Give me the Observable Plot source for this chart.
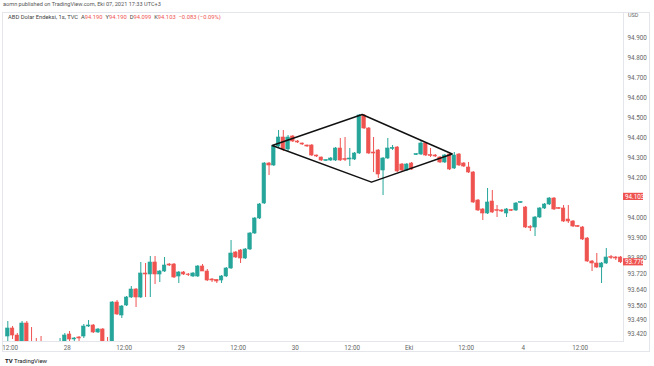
<!DOCTYPE html>
<html><head><meta charset="utf-8">
<script src="https://cdn.jsdelivr.net/npm/d3@7"></script>
<script src="https://cdn.jsdelivr.net/npm/@observablehq/plot@0.6"></script>
<style>
body{margin:0;background:#fff;}
#wrap{position:relative;width:654px;height:366px;font-family:Roboto,"Liberation Sans",sans-serif;overflow:hidden;}
.t{position:absolute;white-space:nowrap;line-height:1;}
.r{color:#ef5350;}
#frame{position:absolute;left:2px;top:12px;width:648px;height:340px;border:1px solid #e4e6ec;box-sizing:border-box;}
</style></head><body>
<div id="wrap">
<div id="frame"></div>
<div class="t" style="left:3px;top:2px;font-size:5.6px;color:#555">aomn published on TradingView.com, Eki 07, 2021 17:33 UTC+3</div>
<div class="t" style="left:8px;top:14.5px;font-size:5.8px;color:#444">ABD Dolar Endeksi, 1s, TVC&nbsp;&nbsp;A<span class="r">94.190</span>&nbsp;&nbsp;Y<span class="r">94.190</span>&nbsp;&nbsp;D<span class="r">94.099</span>&nbsp;&nbsp;K<span class="r">94.103</span>&nbsp;&nbsp;<span class="r">−0.083 (−0.09%)</span></div>
<div class="t" style="left:628px;top:13px;font-size:5.5px;color:#666">USD</div>
<div class="t" style="left:5px;top:358px;font-size:6px;color:#131722"><b>TV</b> TradingView</div>
<div id="chart" style="position:absolute;left:0;top:0"></div>
</div>
<script>
const open = [
93.405, 93.445, 93.41, 93.37, 93.47, 93.36, 93.34, 93.33, 93.31, 93.30,
93.32, 93.34, 93.37, 93.415, 93.39, 93.40, 93.405, 93.455, 93.46, 93.425,
93.44, 93.37, 93.36, 93.575, 93.51, 93.56, 93.60, 93.64, 93.60, 93.72,
93.715, 93.775, 93.715, 93.73, 93.765, 93.765, 93.705, 93.725, 93.715, 93.705,
93.705, 93.755, 93.73, 93.69, 93.688, 93.685, 93.705, 93.745, 93.825, 93.835,
93.795, 93.84, 93.92, 93.995, 94.07, 94.27, 94.26, 94.355, 94.40, 94.34,
94.405, 94.38, 94.37, 94.36, 94.36, 94.31, 94.30, 94.283, 94.285, 94.285,
94.345, 94.292, 94.29, 94.29, 94.32, 94.51, 94.445, 94.325, 94.335, 94.235,
94.295, 94.343, 94.35, 94.265, 94.235, 94.27, 94.312, 94.315, 94.37, 94.312,
94.31, 94.30, 94.275, 94.315, 94.245, 94.315, 94.27, 94.25, 94.225, 94.085,
94.04, 94.02, 94.08, 94.037, 94.035, 94.02, 94.037, 94.035, 94.073, 94.05,
93.952, 93.95, 94.00, 94.045, 94.065, 94.095, 94.047, 94.045, 93.99, 93.98,
93.957, 93.95, 93.895, 93.78, 93.77, 93.75, 93.77, 93.802, 93.80, 93.80
];
const high = [
93.48, 93.455, 93.42, 93.48, 93.48, 93.45, 93.395, 93.405, 93.36, 93.35,
93.37, 93.395, 93.42, 93.43, 93.40, 93.405, 93.465, 93.485, 93.465, 93.445,
93.445, 93.40, 93.58, 93.585, 93.56, 93.605, 93.655, 93.645, 93.775, 93.77,
93.805, 93.805, 93.735, 93.80, 93.77, 93.77, 93.73, 93.73, 93.72, 93.725,
93.76, 93.765, 93.74, 93.695, 93.69, 93.71, 93.75, 93.885, 93.83, 93.84,
93.845, 93.925, 94.00, 94.07, 94.275, 94.275, 94.36, 94.435, 94.435, 94.41,
94.41, 94.385, 94.372, 94.362, 94.365, 94.312, 94.302, 94.29, 94.30, 94.35,
94.395, 94.40, 94.345, 94.325, 94.515, 94.515, 94.45, 94.40, 94.34, 94.30,
94.395, 94.36, 94.355, 94.27, 94.27, 94.275, 94.32, 94.385, 94.375, 94.345,
94.315, 94.305, 94.315, 94.325, 94.325, 94.32, 94.275, 94.275, 94.23, 94.09,
94.045, 94.145, 94.135, 94.06, 94.04, 94.045, 94.04, 94.075, 94.08, 94.055,
93.96, 94.005, 94.05, 94.07, 94.10, 94.10, 94.05, 94.06, 94.06, 93.985,
93.96, 93.955, 93.90, 93.785, 93.82, 93.775, 93.845, 93.81, 93.805, 93.805
];
const low = [
93.38, 93.39, 93.35, 93.35, 93.34, 93.32, 93.30, 93.29, 93.27, 93.26,
93.29, 93.31, 93.35, 93.37, 93.37, 93.38, 93.395, 93.45, 93.42, 93.42,
93.35, 93.33, 93.35, 93.51, 93.495, 93.555, 93.595, 93.55, 93.595, 93.60,
93.60, 93.665, 93.675, 93.725, 93.755, 93.695, 93.67, 93.71, 93.705, 93.70,
93.70, 93.73, 93.68, 93.675, 93.67, 93.67, 93.70, 93.74, 93.795, 93.77,
93.79, 93.835, 93.915, 93.99, 94.065, 94.21, 94.255, 94.35, 94.33, 94.33,
94.375, 94.37, 94.36, 94.35, 94.305, 94.30, 94.28, 94.28, 94.28, 94.28,
94.28, 94.28, 94.255, 94.285, 94.315, 94.44, 94.315, 94.225, 94.195, 94.11,
94.29, 94.335, 94.225, 94.225, 94.23, 94.235, 94.31, 94.31, 94.305, 94.30,
94.30, 94.27, 94.27, 94.235, 94.24, 94.255, 94.25, 94.22, 94.07, 94.03,
93.985, 94.015, 94.02, 94.00, 94.025, 94.00, 94.03, 94.03, 94.07, 93.945,
93.93, 93.905, 93.995, 94.04, 94.06, 94.035, 94.04, 93.975, 93.97, 93.95,
93.95, 93.885, 93.775, 93.73, 93.745, 93.67, 93.765, 93.79, 93.785, 93.77
];
const close = [
93.445, 93.41, 93.37, 93.47, 93.36, 93.34, 93.32, 93.31, 93.30, 93.32,
93.34, 93.37, 93.41, 93.39, 93.395, 93.395, 93.455, 93.46, 93.425, 93.44,
93.37, 93.36, 93.575, 93.515, 93.555, 93.60, 93.64, 93.60, 93.72, 93.715,
93.775, 93.715, 93.73, 93.76, 93.76, 93.70, 93.725, 93.715, 93.712, 93.72,
93.755, 93.73, 93.685, 93.685, 93.68, 93.705, 93.745, 93.82, 93.80, 93.795,
93.84, 93.92, 93.995, 94.065, 94.27, 94.26, 94.355, 94.40, 94.34, 94.40,
94.38, 94.375, 94.365, 94.355, 94.31, 94.305, 94.285, 94.287, 94.295, 94.345,
94.285, 94.288, 94.295, 94.32, 94.51, 94.445, 94.32, 94.32, 94.215, 94.295,
94.345, 94.348, 94.23, 94.235, 94.265, 94.24, 94.317, 94.37, 94.31, 94.308,
94.305, 94.275, 94.31, 94.24, 94.31, 94.26, 94.255, 94.225, 94.075, 94.035,
94.02, 94.075, 94.025, 94.033, 94.03, 94.04, 94.033, 94.07, 94.077, 93.95,
93.948, 94.00, 94.045, 94.065, 94.095, 94.04, 94.043, 93.98, 93.98, 93.955,
93.953, 93.89, 93.78, 93.77, 93.75, 93.77, 93.80, 93.798, 93.795, 93.776
];
// diamond pattern vertices (bar index, price)
const diamondBar = [55.66, 74.6, 93.56, 76.57, 55.66];
const diamondPrice = [94.36, 94.515, 94.3175, 94.1765, 94.36];
// axes
const xTickBars = [0.5, 12.5, 24.5, 36.5, 48.5, 60.5, 72.5, 84.5, 96.5, 108.5, 120.5];
const xTickLabels = ["12:00", "28", "12:00", "29", "12:00", "30", "12:00", "Eki", "12:00", "4", "12:00"];
const priceTicks = [94.9, 94.8, 94.7, 94.6, 94.5, 94.4, 94.3, 94.2, 94.0, 93.9, 93.8, 93.72, 93.64, 93.56, 93.49, 93.42];
const priceLabels = [94.103, 93.776];

const UP = "#26a69a", DOWN = "#ef5350";
const rows = d3.range(open.length).map(i => ({i, o: open[i], h: high[i], l: low[i], c: close[i], col: close[i] >= open[i] ? UP : DOWN}));
const diamond = diamondBar.map((b, k) => ({b, p: diamondPrice[k]}));

const chart = Plot.plot({
  width: 654, height: 366,
  marginLeft: 2, marginRight: 31, marginTop: 12, marginBottom: 25,
  style: {fontFamily: "Roboto, 'Liberation Sans', sans-serif", fontSize: "6.3px", color: "#666", background: "transparent"},
  x: {domain: [-1.116, 129.62], label: null},
  y: {domain: [93.38, 95.025], label: null},
  marks: [
    Plot.frame({stroke: "#e4e6ec"}),
    Plot.ruleX(rows, {x: "i", y1: "l", y2: "h", stroke: "col", strokeWidth: 1, clip: true}),
    Plot.rect(rows, {x1: d => d.i - 0.37, x2: d => d.i + 0.37, y1: "o", y2: "c", fill: "col", stroke: "col", strokeWidth: 0.6, clip: true}),
    Plot.line(diamond, {x: "b", y: "p", stroke: "#111", strokeWidth: 1.4}),
    Plot.axisX(xTickBars, {tickSize: 0, tickPadding: 4, tickFormat: (d, k) => xTickLabels[k], label: null}),
    Plot.axisY(priceTicks, {anchor: "right", tickSize: 0, tickPadding: 4, tickFormat: d3.format(".3f"), label: null})
  ]
});
document.getElementById("chart").appendChild(chart);

const ys = chart.scale("y");
const svg = d3.select(chart);
const g = svg.append("g").attr("text-anchor", "start");
priceLabels.forEach(v => {
  const y = ys.apply(v);
  g.append("rect").attr("x", 623).attr("y", y - 3.6).attr("width", 20).attr("height", 7.2).attr("fill", DOWN);
  g.append("text").attr("x", 625).attr("y", y).attr("dy", "0.35em").attr("fill", "#fff")
    .attr("text-anchor", "start").attr("font-size", "6.3px").text(d3.format(".3f")(v));
});
</script>
</body></html>
